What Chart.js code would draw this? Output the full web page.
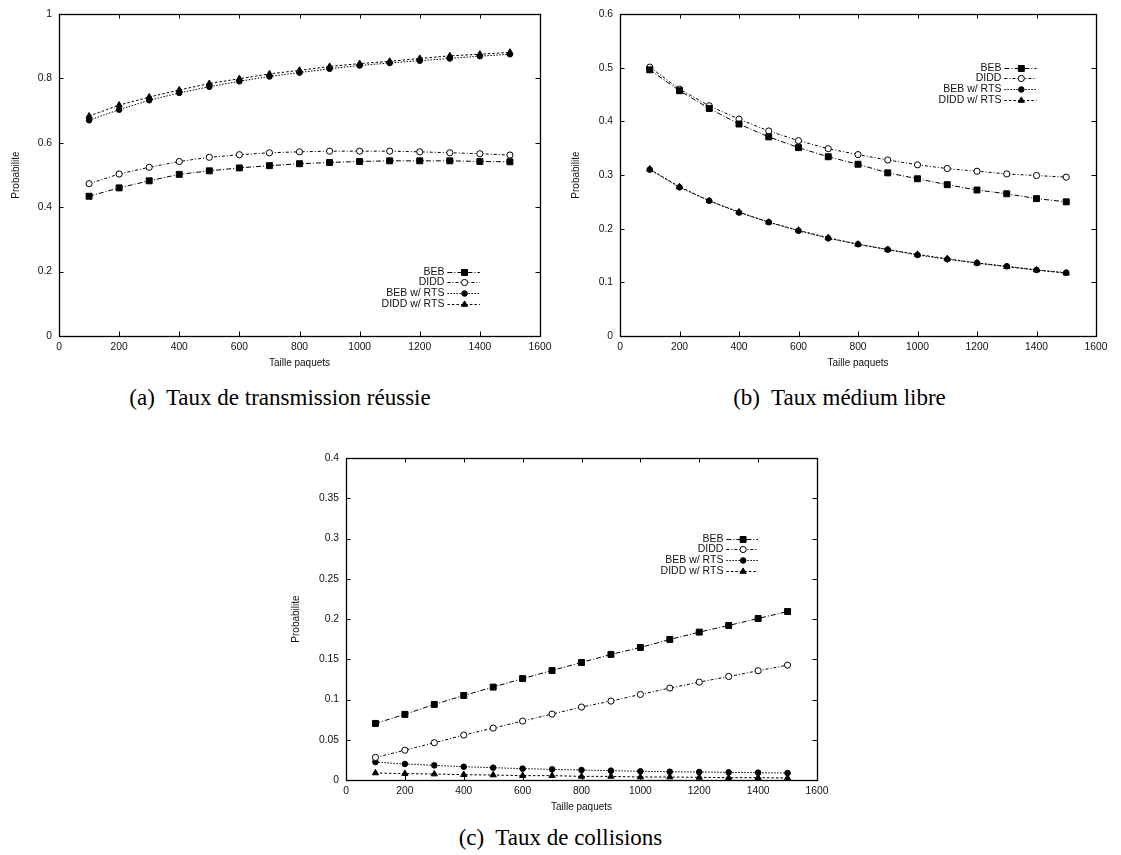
<!DOCTYPE html>
<html>
<head>
<meta charset="utf-8">
<script src="https://cdn.jsdelivr.net/npm/chart.js@4.4.1/dist/chart.umd.min.js"></script>
<style>
  body { margin: 0; background: #fff; width: 1121px; height: 855px; position: relative; overflow: hidden; }
  canvas { position: absolute; }
  .cap { position: absolute; font: 23px 'Liberation Serif', 'Times New Roman', serif; line-height: 23px;
         color: #000; white-space: pre; text-align: center; }
</style>
</head>
<body>
<canvas id="chartA" width="560" height="375" style="left:0;top:0"></canvas>
<canvas id="chartB" width="561" height="375" style="left:560px;top:0"></canvas>
<canvas id="chartC" width="560" height="399" style="left:280px;top:420px"></canvas>
<div class="cap" style="left:0;top:386px;width:560px">(a)  Taux de transmission réussie</div>
<div class="cap" style="left:560px;top:386px;width:559px">(b)  Taux médium libre</div>
<div class="cap" style="left:280px;top:826px;width:561px">(c)  Taux de collisions</div>
<script>
// ── Data ─────────────────────────────────────────────────────────────────────
const PAQUETS = [100, 200, 300, 400, 500, 600, 700, 800, 900, 1000, 1100, 1200, 1300, 1400, 1500];
const LABELS  = ['BEB', 'DIDD', 'BEB w/ RTS', 'DIDD w/ RTS'];

// (a) Taux de transmission réussie
const TX_BEB      = [0.434, 0.460, 0.482, 0.502, 0.513, 0.522, 0.529, 0.535, 0.539, 0.542, 0.544, 0.544, 0.544, 0.542, 0.541];
const TX_DIDD     = [0.473, 0.503, 0.524, 0.542, 0.555, 0.563, 0.569, 0.572, 0.574, 0.574, 0.574, 0.572, 0.569, 0.566, 0.562];
const TX_BEB_RTS  = [0.670, 0.703, 0.732, 0.755, 0.774, 0.791, 0.806, 0.818, 0.830, 0.840, 0.848, 0.855, 0.862, 0.869, 0.875];
const TX_DIDD_RTS = [0.683, 0.717, 0.742, 0.764, 0.784, 0.799, 0.814, 0.825, 0.837, 0.846, 0.853, 0.862, 0.870, 0.875, 0.881];

// (b) Taux médium libre
const LIB_BEB      = [0.496, 0.457, 0.424, 0.395, 0.371, 0.351, 0.334, 0.320, 0.304, 0.293, 0.282, 0.272, 0.265, 0.256, 0.250];
const LIB_DIDD     = [0.501, 0.460, 0.429, 0.404, 0.382, 0.364, 0.349, 0.338, 0.328, 0.319, 0.312, 0.307, 0.302, 0.299, 0.296];
const LIB_BEB_RTS  = [0.310, 0.277, 0.252, 0.230, 0.212, 0.196, 0.182, 0.171, 0.161, 0.151, 0.143, 0.136, 0.130, 0.123, 0.118];
const LIB_DIDD_RTS = [0.311, 0.278, 0.252, 0.231, 0.212, 0.197, 0.183, 0.171, 0.161, 0.152, 0.144, 0.136, 0.129, 0.123, 0.117];

// (c) Taux de collisions
const COL_BEB      = [0.0703, 0.0815, 0.0939, 0.1050, 0.1154, 0.1260, 0.1360, 0.1460, 0.1560, 0.1646, 0.1746, 0.1837, 0.1920, 0.2006, 0.2093];
const COL_DIDD     = [0.0280, 0.0370, 0.0463, 0.0558, 0.0645, 0.0732, 0.0819, 0.0906, 0.0980, 0.1063, 0.1142, 0.1216, 0.1286, 0.1357, 0.1427];
const COL_BEB_RTS  = [0.0223, 0.0199, 0.0182, 0.0165, 0.0153, 0.0141, 0.0132, 0.0124, 0.0116, 0.0108, 0.0103, 0.0099, 0.0095, 0.0091, 0.0087];
const COL_DIDD_RTS = [0.0087, 0.0079, 0.0074, 0.0066, 0.0062, 0.0054, 0.0054, 0.0045, 0.0045, 0.0037, 0.0037, 0.0033, 0.0029, 0.0029, 0.0025];

// ── Styles ───────────────────────────────────────────────────────────────────
const INK  = '#111';
const FONT = "'Liberation Sans', Arial, Helvetica, sans-serif";
const TICK = 4.5;

const SERIES_STYLE = [
  { dash: [5, 2, 1, 2],  pointStyle: 'rect',     radius: 4.2, fill: '#000' },
  { dash: [3, 2, 1, 2],  pointStyle: 'circle',   radius: 3.1, fill: '#fff' },
  { dash: [1.5, 1.5],    pointStyle: 'circle',   radius: 2.8, fill: '#000' },
  { dash: [2.5, 2],      pointStyle: 'triangle', radius: 3.6, fill: '#000' }
];

// gnuplot-like frame with inward mirrored ticks
const framePlugin = {
  id: 'gnuFrame',
  afterDatasetsDraw(chart) {
    const { ctx, chartArea: a, scales: { x, y } } = chart;
    ctx.save();
    ctx.strokeStyle = '#000';
    ctx.lineWidth = 1;
    ctx.beginPath();
    x.ticks.forEach(t => {
      const px = Math.round(x.getPixelForValue(t.value)) + 0.5;
      ctx.moveTo(px, a.bottom); ctx.lineTo(px, a.bottom - TICK);
      ctx.moveTo(px, a.top);    ctx.lineTo(px, a.top + TICK);
    });
    y.ticks.forEach(t => {
      const py = Math.round(y.getPixelForValue(t.value)) + 0.5;
      ctx.moveTo(a.left, py);  ctx.lineTo(a.left + TICK, py);
      ctx.moveTo(a.right, py); ctx.lineTo(a.right - TICK, py);
    });
    ctx.stroke();
    ctx.lineWidth = 1.3;
    ctx.strokeRect(Math.round(a.left) + 0.5, Math.round(a.top) + 0.5,
                   Math.round(a.right - a.left), Math.round(a.bottom - a.top));
    ctx.restore();
  }
};

// gnuplot-like key: text right aligned, then sample line + marker
const keyPlugin = {
  id: 'gnuKey',
  afterDraw(chart) {
    const { ctx, scales: { x, y } } = chart;
    const ky = chart.options.plugins.gnuKey.y;
    ctx.save();
    ctx.font = '10.5px ' + FONT;
    ctx.textAlign = 'right';
    ctx.textBaseline = 'middle';
    chart.data.datasets.forEach((ds, i) => {
      const yy = Math.round(y.getPixelForValue(ky) + i * 10.7) + 0.5;
      const x0 = x.getPixelForValue(1292), x1 = x.getPixelForValue(1400);
      ctx.fillStyle = INK;
      ctx.fillText(ds.label, x.getPixelForValue(1282), yy);
      ctx.strokeStyle = '#000';
      ctx.lineWidth = 1;
      ctx.setLineDash(ds.borderDash);
      ctx.beginPath(); ctx.moveTo(x0, yy); ctx.lineTo(x1, yy); ctx.stroke();
      ctx.setLineDash([]);
      ctx.fillStyle = ds.pointBackgroundColor;
      ctx.strokeStyle = '#000';
      Chart.helpers.drawPoint(ctx, { pointStyle: ds.pointStyle, radius: ds.pointRadius, rotation: 0, borderWidth: 1 },
                              x.getPixelForValue(1349), yy);
    });
    ctx.restore();
  }
};

function makeChart(id, series, yMax, yStep, keyY, box) {
  const datasets = series.map((vals, i) => {
    const st = SERIES_STYLE[i];
    return {
      label: LABELS[i],
      data: PAQUETS.map((p, k) => ({ x: p, y: vals[k] })),
      borderColor: '#000', borderWidth: 1, borderDash: st.dash,
      pointStyle: st.pointStyle, pointRadius: st.radius,
      pointBackgroundColor: st.fill, pointBorderColor: '#000', pointBorderWidth: 1,
      tension: 0, fill: false
    };
  });
  return new Chart(document.getElementById(id), {
    type: 'line',
    data: { datasets },
    options: {
      responsive: false,
      animation: false,
      layout: { padding: { top: box.top, right: box.right, bottom: 0, left: 0 } },
      plugins: { legend: { display: false }, tooltip: { enabled: false }, gnuKey: { y: keyY } },
      scales: {
        x: {
          type: 'linear', min: 0, max: 1600,
          grid: { display: false, drawTicks: false }, border: { display: false },
          ticks: { stepSize: 200, autoSkip: false, maxRotation: 0, padding: 5, color: INK,
                   font: { family: FONT, size: 10.3 }, callback: v => String(v) },
          title: { display: true, text: 'Taille paquets', color: INK, font: { family: FONT, size: 10 },
                   padding: { top: 0, bottom: 6 } },
          afterFit: s => { s.height = box.xh; }
        },
        y: {
          min: 0, max: yMax,
          grid: { display: false, drawTicks: false }, border: { display: false },
          ticks: { stepSize: yStep, padding: 7, color: INK, font: { family: FONT, size: 10.3 },
                   callback: v => String(+v.toFixed(4)) },
          title: { display: true, text: 'Probabilite', color: INK, font: { family: FONT, size: 10 },
                   padding: { top: 10, bottom: 0 } },
          afterFit: s => { s.width = box.yw; }
        }
      }
    },
    plugins: [framePlugin, keyPlugin]
  });
}

makeChart('chartA', [TX_BEB, TX_DIDD, TX_BEB_RTS, TX_DIDD_RTS], 1, 0.2, 0.2,
          { top: 14, right: 20, yw: 59, xh: 39 });
makeChart('chartB', [LIB_BEB, LIB_DIDD, LIB_BEB_RTS, LIB_DIDD_RTS], 0.6, 0.1, 0.5,
          { top: 14, right: 25, yw: 60, xh: 39 });
makeChart('chartC', [COL_BEB, COL_DIDD, COL_BEB_RTS, COL_DIDD_RTS], 0.4, 0.05, 0.3,
          { top: 38, right: 23, yw: 66, xh: 39 });
</script>
</body>
</html>
